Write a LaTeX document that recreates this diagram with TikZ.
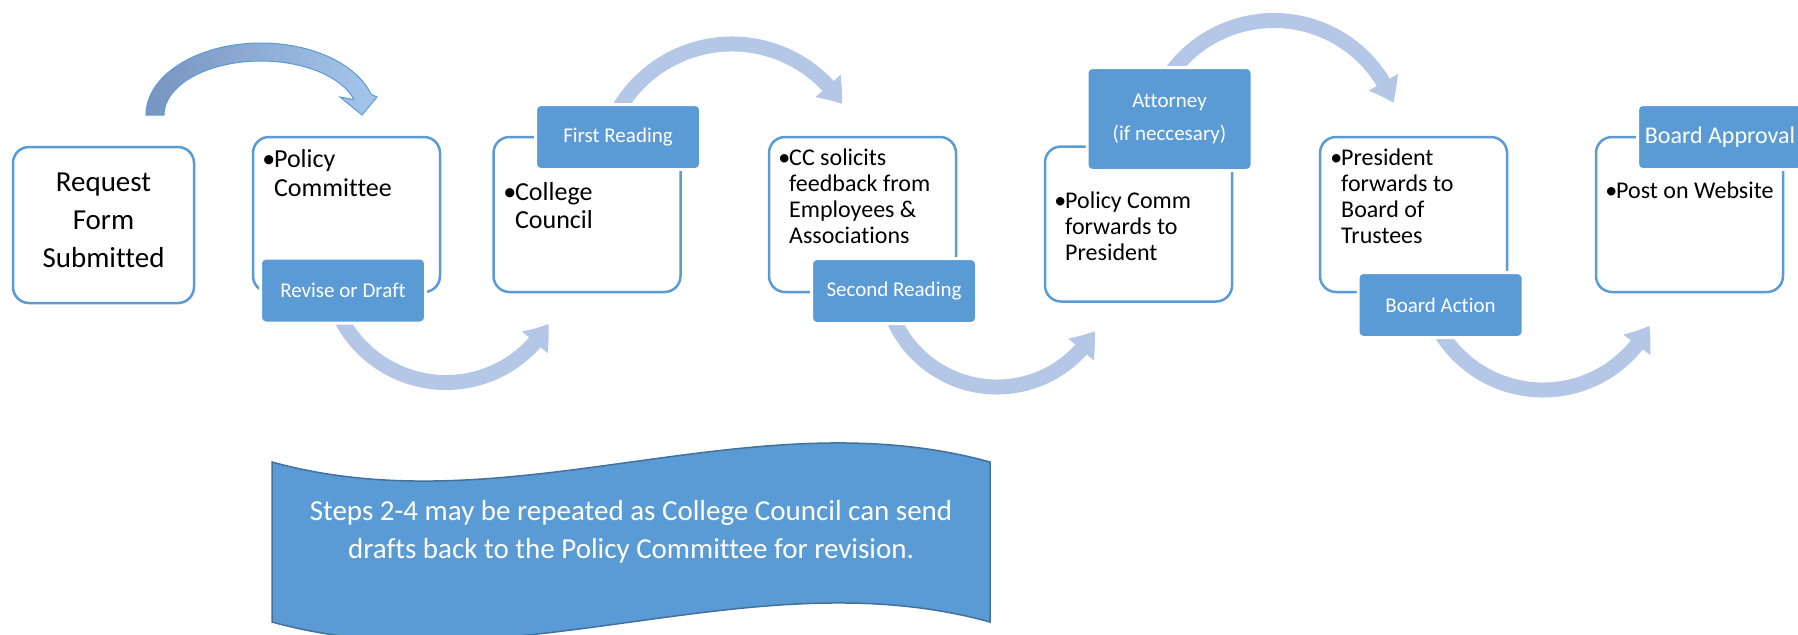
\documentclass[tikz,border=0pt]{standalone}
\usepackage{fontspec}
\setmainfont{Carlito}[Ligatures=NoCommon]
\usetikzlibrary{arrows.meta,bending}
\definecolor{accent}{RGB}{91,155,213}
\definecolor{accentdark}{RGB}{65,113,156}
\definecolor{flow}{RGB}{180,199,231}
\definecolor{flowdark}{RGB}{120,148,192}
\definecolor{flowlight}{RGB}{165,198,236}
\newcommand{\bul}{\makebox[0.45em][l]{\textbullet}}
\newcommand{\ind}{\hspace*{0.45em}}
\tikzset{
  stepbox/.style={draw=accent,line width=1.25pt,rounded corners=8pt,fill=white,
    minimum width=93.5pt,minimum height=77.5pt,inner sep=0pt},
  tab/.style={fill=accent,draw=white,line width=1.5pt,rounded corners=2.5pt,
    text=white,minimum width=82.5pt,minimum height=32.5pt,inner sep=0pt,
    font=\fontsize{10.5pt}{12pt}\selectfont},
  steptext/.style={anchor=north west,inner sep=0pt,align=left,
    font=\fontsize{12pt}{13pt}\selectfont},
  flowarc/.style={draw=flow,line width=7.5pt,
    -{Triangle[width=16pt,length=11.5pt,bend]}},
}
\begin{document}
\begin{tikzpicture}[x=0.5pt,y=-0.5pt]
  \useasboundingbox (0,0) rectangle (1798,634);
  \clip (0,0) rectangle (1798,634);
  % curved arrows, behind the boxes
  \coordinate (c0) at (261,115);
  \coordinate (c1) at (446,264);
  \coordinate (c2) at (732,175);
  \coordinate (c3) at (997,274);
  \coordinate (c4) at (1274,148);
  \coordinate (c5) at (1543,270);
  \path[left color=flowdark,right color=flowlight,draw=accent,line width=0.5pt]
    ([shift={(180:115 and 72)}]c0)
    arc[start angle=180,end angle=343.4,x radius=115,y radius=72]
    -- (377,97) -- (362,115) -- (340,97) -- ([shift={(343.4:97 and 54)}]c0)
    arc[start angle=343.4,end angle=180,x radius=97,y radius=54] -- cycle;
  \draw[flowarc] ([shift={(155:118.5)}]c1) arc[start angle=155,end angle=30.3,radius=118.5];
  \draw[flowarc] ([shift={(-160:131)}]c2) arc[start angle=-160,end angle=-32.8,radius=131];
  \draw[flowarc] ([shift={(160:113)}]c3) arc[start angle=160,end angle=30.3,radius=113];
  \draw[flowarc] ([shift={(-150:127.5)}]c4) arc[start angle=-150,end angle=-20.7,radius=127.5];
  \draw[flowarc] ([shift={(155:120)}]c5) arc[start angle=155,end angle=27.6,radius=120];

  % steps
  \node[stepbox,minimum width=90.5pt,minimum height=78pt] (request) at (103.5,225) {};
  \node[align=center,font=\fontsize{14.5pt}{19pt}\selectfont] (requesttext) at (103.5,220)
    {Request\\Form\\Submitted};
  \node[stepbox] (polcom)    at (346.5,214.5) {};
  \node[stepbox] (council)   at (587,214.5) {};
  \node[stepbox] (solicit)   at (862.5,214.5) {};
  \node[stepbox] (forward)   at (1138.5,224) {};
  \node[stepbox] (president) at (1413.5,214.5) {};
  \node[stepbox] (post)      at (1689.5,214.5) {};

  \node[steptext,font=\fontsize{13pt}{14.5pt}\selectfont] (polcomtext) at (262,149)
    {\bul Policy\\\ind Committee};
  \node[steptext,font=\fontsize{13pt}{14pt}\selectfont] (counciltext) at (503,182)
    {\bul College\\\ind Council};
  \node[steptext] (solicittext) at (778,148)
    {\bul CC solicits\\\ind feedback from\\\ind Employees \&\\\ind Associations};
  \node[steptext] (forwardtext) at (1054,191)
    {\bul Policy Comm\\\ind forwards to\\\ind President};
  \node[steptext] (presidenttext) at (1330,148)
    {\bul President\\\ind forwards to\\\ind Board of\\\ind Trustees};
  \node[steptext] (posttext) at (1605,181) {\bul Post on Website};

  % tabs
  \node[tab] (revise) at (343,290.5) {Revise or Draft};
  \node[tab] (first)  at (618,137) {First Reading};
  \node[tab] (second) at (894,291) {Second Reading};
  \node[tab,minimum height=51.5pt,align=center,font=\fontsize{10.5pt}{16.5pt}\selectfont]
    (attorney) at (1169.5,119) {Attorney\\(if neccesary)};
  \node[tab] (action) at (1440.5,305) {Board Action};
  \node[tab,font=\fontsize{12pt}{13pt}\selectfont] (approval) at (1720,137) {Board Approval};

  % note banner
  \path[fill=accent,draw=accentdark,line width=0.75pt]
    (272,462) .. controls (511,528) and (751,396) .. (990,462)
    -- (990,622) .. controls (751,556) and (511,688) .. (272,622) -- cycle;
  \node[text=white,align=center,font=\fontsize{14.5pt}{19pt}\selectfont] (note) at (631,532)
    {Steps 2-4 may be repeated as College Council can send\\drafts back to the Policy Committee for revision.};
\end{tikzpicture}
\end{document}
